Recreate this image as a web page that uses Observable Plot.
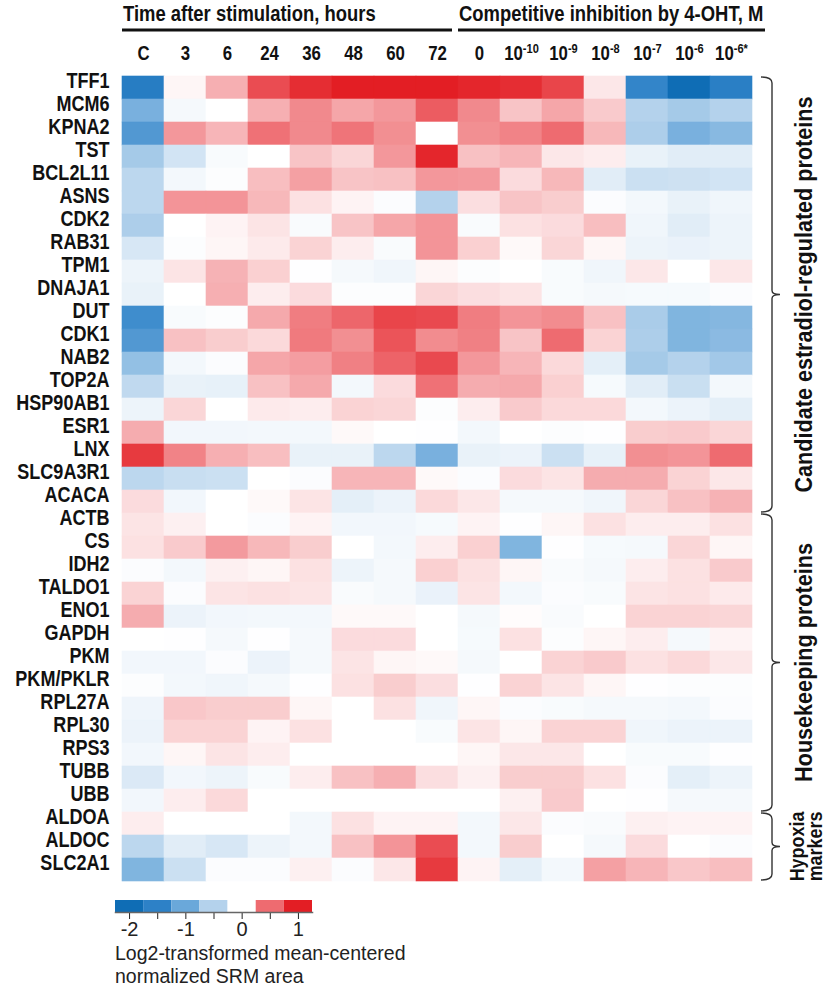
<!DOCTYPE html>
<html><head><meta charset="utf-8">
<script src="https://cdn.jsdelivr.net/npm/d3@7"></script>
<script src="https://cdn.jsdelivr.net/npm/@observablehq/plot@0.6"></script>
<style>
body{margin:0;background:#fff;}
#chart{position:relative;width:825px;height:987px;overflow:hidden;background:#fff;}
#chart svg{display:block;}
.cap{font-family:'Liberation Sans',Arial,sans-serif;font-size:19.5px;color:#222;margin-left:115px;line-height:23px;white-space:nowrap;}
</style></head><body><div id="chart"></div><script>
// ---- data ----
const columns = ["C","3","6","24","36","48","60","72","0","1e-10","1e-9","1e-8","1e-7","1e-6","1e-6*"];
const columnLabels = ["C","3","6","24","36","48","60","72","0","10^-10","10^-9","10^-8","10^-7","10^-6","10^-6*"];
const headerLabels = ["Time after stimulation, hours","Competitive inhibition by 4-OHT, M"];
const headerFrom = ["C","0"];
const headerTo = ["72","1e-6*"];

const estradiolGenes = ["TFF1","MCM6","KPNA2","TST","BCL2L11","ASNS","CDK2","RAB31","TPM1","DNAJA1","DUT","CDK1","NAB2","TOP2A","HSP90AB1","ESR1","LNX","SLC9A3R1","ACACA"];
const estradiolValues = [
  [-1.6, 0.03, 0.27, 0.7, 0.9, 1.0, 1.0, 1.0, 0.95, 0.9, 0.75, 0.08, -1.45, -2.0, -1.55],
  [-0.9, -0.07, 0, 0.27, 0.4, 0.3, 0.35, 0.6, 0.4, 0.2, 0.3, 0.18, -0.5, -0.6, -0.5],
  [-1.2, 0.35, 0.25, 0.48, 0.4, 0.47, 0.38, 0, 0.38, 0.42, 0.5, 0.24, -0.55, -0.9, -0.8],
  [-0.6, -0.3, -0.05, 0, 0.2, 0.14, 0.35, 0.95, 0.21, 0.25, 0.08, 0.06, -0.15, -0.2, -0.2],
  [-0.45, -0.08, -0.02, 0.22, 0.32, 0.2, 0.21, 0.35, 0.34, 0.12, 0.24, -0.2, -0.35, -0.33, -0.3],
  [-0.45, 0.36, 0.36, 0.24, 0.1, 0.04, -0.03, -0.5, 0.11, 0.2, 0.17, -0.03, -0.08, -0.15, -0.1],
  [-0.55, 0, 0.04, 0.09, -0.04, 0.2, 0.3, 0.36, -0.04, 0.1, 0.12, 0.22, -0.1, -0.2, -0.12],
  [-0.27, -0.02, 0.03, 0.07, 0.15, 0.06, -0.04, 0.36, 0.16, 0.02, 0.14, 0.03, -0.12, -0.14, -0.12],
  [-0.12, 0.09, 0.26, 0.16, -0.01, -0.07, -0.1, 0.03, -0.02, 0, -0.05, -0.1, 0.08, 0, 0.08],
  [-0.15, 0, 0.27, 0.06, 0.12, -0.02, -0.02, 0.14, 0.11, 0.09, -0.05, -0.07, -0.06, -0.06, -0.03],
  [-1.35, -0.05, -0.02, 0.29, 0.44, 0.53, 0.75, 0.72, 0.44, 0.36, 0.39, 0.21, -0.57, -0.85, -0.82],
  [-1.2, 0.21, 0.17, 0.13, 0.45, 0.38, 0.65, 0.39, 0.43, 0.2, 0.5, 0.15, -0.55, -0.85, -0.78],
  [-0.72, -0.08, -0.03, 0.3, 0.33, 0.43, 0.55, 0.72, 0.35, 0.25, 0.13, -0.18, -0.6, -0.5, -0.62],
  [-0.42, -0.15, -0.16, 0.21, 0.29, -0.08, 0.12, 0.48, 0.28, 0.29, 0.16, -0.06, -0.2, -0.36, -0.08],
  [-0.12, 0.14, 0, 0.07, 0.06, 0.15, 0.14, -0.02, 0.06, 0.18, 0.13, 0.13, -0.08, -0.13, -0.18],
  [0.28, -0.09, -0.09, -0.08, -0.08, 0.02, 0, -0.01, -0.08, 0, -0.02, -0.01, 0.17, 0.18, 0.14],
  [0.82, 0.42, 0.27, 0.22, -0.15, -0.15, -0.45, -0.9, -0.15, -0.13, -0.35, -0.16, 0.38, 0.36, 0.5],
  [-0.45, -0.37, -0.35, 0, -0.03, 0.25, 0.25, 0.02, -0.03, 0.12, 0.09, 0.28, 0.28, 0.15, 0.08],
  [0.12, -0.09, 0, 0.02, 0.09, -0.18, -0.13, 0.13, 0.08, -0.07, -0.07, -0.1, 0.14, 0.21, 0.26]
];
const housekeepingGenes = ["ACTB","CS","IDH2","TALDO1","ENO1","GAPDH","PKM","PKM/PKLR","RPL27A","RPL30","RPS3","TUBB","UBB"];
const housekeepingValues = [
  [0.09, 0.05, 0, -0.03, 0.04, -0.09, -0.09, -0.06, 0.04, -0.01, 0.03, 0.1, 0.06, 0.06, 0.1],
  [0.1, 0.18, 0.34, 0.24, 0.17, 0, -0.08, 0.06, 0.16, -0.85, -0.01, -0.06, -0.07, 0.14, 0.03],
  [-0.03, -0.08, 0.05, 0.03, 0.1, -0.12, -0.07, 0.16, 0.1, 0.03, -0.04, -0.07, 0.06, 0.1, 0.18],
  [0.15, -0.03, 0.09, 0.1, 0.09, -0.04, -0.07, -0.14, 0.09, -0.08, -0.03, -0.05, 0.09, 0.1, 0.07],
  [0.28, -0.13, -0.09, -0.08, -0.08, 0.02, 0.02, 0, -0.07, 0.01, -0.04, 0, 0.15, 0.15, 0.14],
  [0, -0.01, -0.07, -0.01, -0.07, 0.12, 0.12, 0, -0.06, 0.1, -0.02, 0.03, 0.06, -0.07, 0.04],
  [-0.09, -0.09, -0.03, -0.13, -0.07, 0.09, 0.03, 0.02, -0.07, 0, 0.15, 0.18, 0.1, 0.13, 0.08],
  [-0.02, -0.08, -0.1, -0.07, -0.01, 0.1, 0.17, 0.11, -0.01, 0.15, 0.09, 0.03, -0.01, -0.02, -0.02],
  [-0.11, 0.19, 0.17, 0.17, 0.03, 0, 0.1, -0.1, 0.03, -0.03, -0.05, -0.07, -0.07, -0.08, -0.03],
  [-0.13, 0.15, 0.15, 0.04, 0.1, 0, 0, -0.05, 0.09, 0.03, 0.15, 0.15, -0.1, -0.13, -0.13],
  [-0.09, 0.03, 0.09, 0.06, 0, 0, 0, 0, 0.03, 0.08, 0.08, 0, -0.05, -0.05, -0.01],
  [-0.24, -0.09, -0.12, -0.05, 0.06, 0.21, 0.27, 0.11, 0.05, 0.17, 0.17, 0.1, -0.03, -0.18, -0.12],
  [-0.09, 0.06, 0.13, 0, 0, 0, 0, 0, 0, 0.05, 0.18, 0, -0.01, -0.07, -0.07]
];
const hypoxiaGenes = ["ALDOA","ALDOC","SLC2A1"];
const hypoxiaValues = [
  [0.06, 0, 0, 0, -0.08, 0.1, 0.04, 0.04, -0.08, 0.08, -0.03, -0.04, 0.05, 0.04, 0.04],
  [-0.45, -0.2, -0.27, -0.12, -0.08, 0.21, 0.36, 0.7, -0.08, 0.17, 0, -0.07, 0.12, 0, -0.03],
  [-0.85, -0.35, -0.03, -0.03, 0.05, -0.03, 0.08, 0.82, 0.04, -0.18, -0.08, 0.32, 0.25, 0.19, 0.22]
];
const groupLabels = [["Candidate estradiol-regulated proteins"],["Housekeeping proteins"],["Hypoxia","markers"]];
const legendValues = [-2, -1.5, -1, -0.5, 0, 0.5, 1];
const legendColors = ["#0f6db5","#2d81c7","#6aa8da","#b4d2ec","#ffffff","#ee6b70","#e31e24"];
const legendTicks = [-2, -1.5, -1, -0.5, 0, 0.5, 1];
const captionLines = ["Log2-transformed mean-centered","normalized SRM area"];

// ---- build ----
const groups = [
  {genes: estradiolGenes, values: estradiolValues},
  {genes: housekeepingGenes, values: housekeepingValues},
  {genes: hypoxiaGenes, values: hypoxiaValues}
];
const genes = groups.flatMap(g => g.genes);
const table = [];
groups.forEach(g => g.genes.forEach((gene, i) => g.values[i].forEach((v, j) => table.push({gene, col: columns[j], value: v}))));
const colLabel = new Map(columns.map((c, i) => [c, columnLabels[i]]));

const FONT = "'Liberation Sans',Arial,sans-serif";
const NARROW = 0.82; // emulate a narrow bold face
const colorScale = {type: "linear", domain: legendValues, range: legendColors, interpolate: "rgb", clamp: true};

const main = Plot.plot({
  width: 825, height: 898,
  marginTop: 65, marginLeft: 115, marginRight: 67, marginBottom: 6,
  style: {fontFamily: FONT, fontWeight: "bold", fontSize: "22px", color: "#111", background: "white", overflow: "visible"},
  x: {domain: columns, padding: 0, axis: "top", label: null, tickSize: 0, tickPadding: 6, tickFormat: c => colLabel.get(c)},
  y: {domain: genes, padding: 0, label: null, tickSize: 0, tickPadding: 6},
  color: colorScale,
  marks: [
    Plot.cell(table, {x: "col", y: "gene", fill: "value", stroke: "value", strokeWidth: 0.6})
  ]
});

function narrow(el, f = NARROW) {
  let tr = el.getAttribute("transform") || "";
  const x = el.getAttribute("x"), y = el.getAttribute("y");
  if (x !== null || y !== null) {
    tr += ` translate(${+x || 0},${+y || 0})`;
    el.removeAttribute("x"); el.removeAttribute("y");
  }
  el.setAttribute("transform", tr + ` scale(${f},1)`);
}

// column labels with superscripts
d3.select(main).selectAll('g[aria-label="x-axis tick label"] text').each(function() {
  const t = d3.select(this);
  t.attr("font-size", "20.5px");
  const s = t.text();
  const m = s.match(/^10\^(.+)$/);
  if (m) {
    t.text("10");
    t.append("tspan").attr("dy", "-0.5em").attr("font-size", "13.5px").text(m[1]);
  }
  narrow(this);
});
d3.select(main).selectAll('g[aria-label="y-axis tick label"] text').each(function() { narrow(this); });

const sx = main.scale("x"), sy = main.scale("y");
const svg = d3.select(main);
const ann = svg.append("g").attr("fill", "#111");

// headers
headerLabels.forEach((lab, i) => {
  const x1 = sx.apply(headerFrom[i]);
  const x2 = sx.apply(headerTo[i]) + sx.bandwidth + (i === 0 ? -6 : 13);
  ann.append("text").attr("transform", `translate(${x1 + 1},21) scale(${NARROW},1)`)
    .attr("text-anchor", "start")
    .attr("font-family", FONT).attr("font-weight", "bold").attr("font-size", "22.5px").text(lab);
  ann.append("line").attr("x1", x1).attr("x2", x2).attr("y1", 30).attr("y2", 30)
    .attr("stroke", "#111").attr("stroke-width", 3);
});

// braces + group labels
const bx = 772;
groups.forEach((g, i) => {
  const y1 = sy.apply(g.genes[0]) + 1;
  const y2 = sy.apply(g.genes[g.genes.length - 1]) + sy.bandwidth - 1;
  const ym = (y1 + y2) / 2;
  const p = `M${bx - 11},${y1} Q${bx},${y1} ${bx},${y1 + 6} L${bx},${ym - 4} Q${bx},${ym} ${bx + 8},${ym} Q${bx},${ym} ${bx},${ym + 4} L${bx},${y2 - 6} Q${bx},${y2} ${bx - 11},${y2}`;
  ann.append("path").attr("d", p).attr("fill", "none").attr("stroke", "#333").attr("stroke-width", 1.4);
  const lines = groupLabels[i];
  const two = lines.length > 1;
  lines.forEach((ln, k) => {
    const cx = two ? 797 + k * 18.5 : 804;
    ann.append("text").attr("transform", `translate(${cx},${ym}) rotate(-90) scale(${two ? 0.92 : 0.9},1)`)
      .attr("text-anchor", "middle").attr("dy", "0.35em")
      .attr("font-family", FONT).attr("font-weight", "bold").attr("font-size", two ? "19.5px" : "24px").text(ln);
  });
});

// legend
const legend = Plot.plot({
  width: 330, height: 44,
  marginLeft: 115, marginRight: 18, marginTop: 2, marginBottom: 30,
  style: {fontFamily: FONT, fontSize: "20px", color: "#222", background: "white", overflow: "visible"},
  x: {domain: [-2.25, 1.25], ticks: legendTicks, tickFormat: d => Number.isInteger(d) ? String(d) : "", tickSize: 7, tickPadding: 2, label: null},
  color: colorScale,
  marks: [
    Plot.rect(legendValues, {x1: d => d - 0.25, x2: d => d + 0.25, fill: d => d}),
    Plot.frame({anchor: "bottom", stroke: "#666", strokeWidth: 1.5})
  ]
});

const root = document.getElementById("chart");
root.appendChild(main);
root.appendChild(legend);
captionLines.forEach(l => {
  const d = document.createElement("div");
  d.className = "cap";
  d.textContent = l;
  root.appendChild(d);
});
</script></body></html>
